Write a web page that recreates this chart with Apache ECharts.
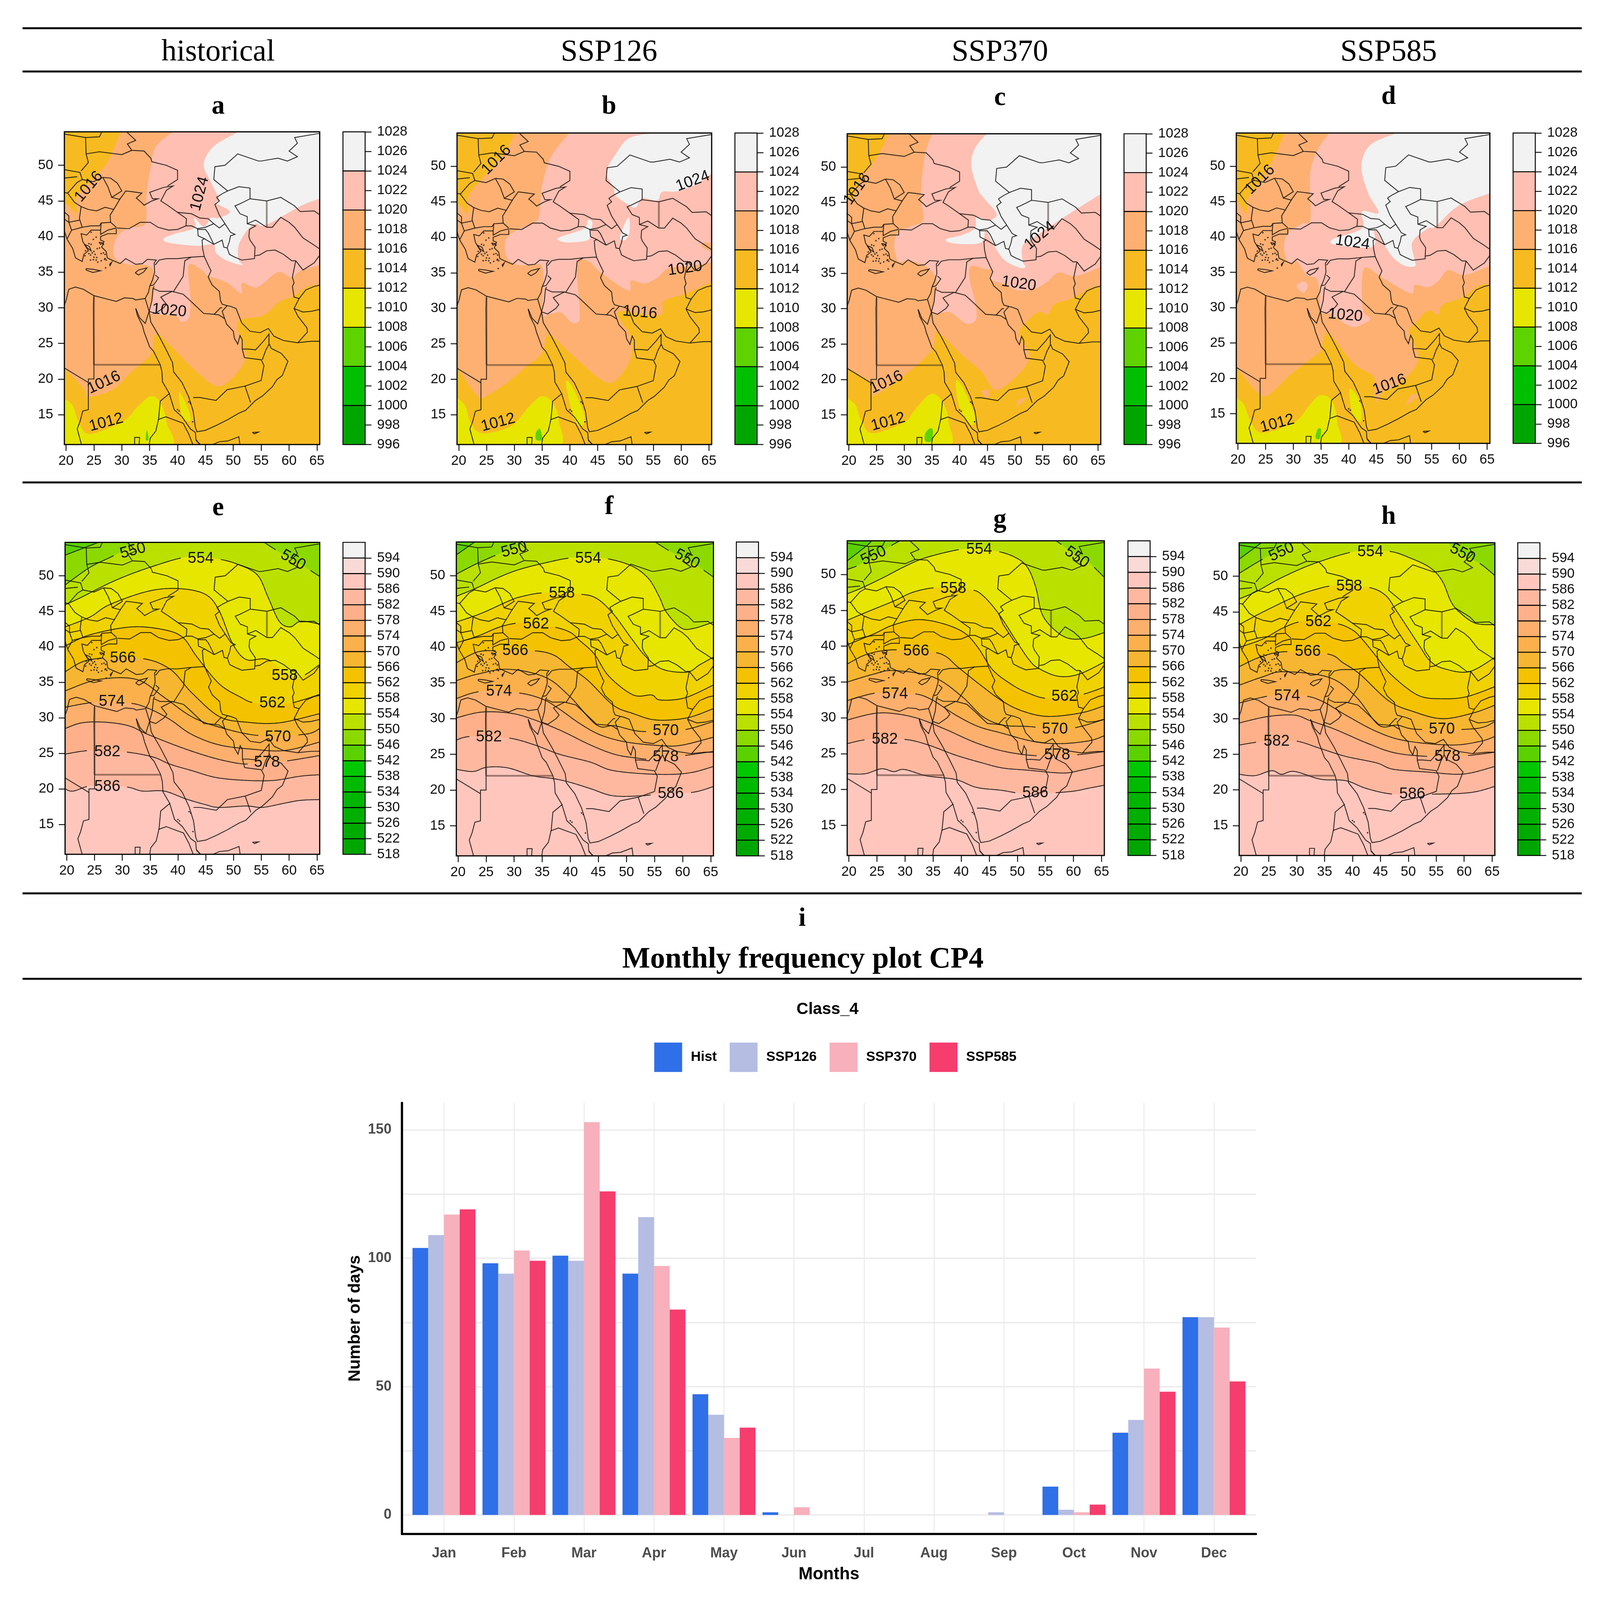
<!DOCTYPE html>
<html><head><meta charset="utf-8">
<style>html,body{margin:0;padding:0;background:#fff;overflow:hidden}</style>
<script src="https://cdn.jsdelivr.net/npm/echarts@6/dist/echarts.min.js"></script>
</head><body><div id="c"></div>
<script>
// ---------- monthly frequency data ----------
const months=['Jan','Feb','Mar','Apr','May','Jun','Jul','Aug','Sep','Oct','Nov','Dec'];
const histDays=[104,98,101,94,47,1,0,0,0,11,32,77];
const ssp126Days=[109,94,99,116,39,0,0,0,1,2,37,77];
const ssp370Days=[117,103,153,97,30,3,0,0,0,1,57,73];
const ssp585Days=[119,99,126,80,34,0,0,0,0,4,48,52];
const lonTicks=[20,25,30,35,40,45,50,55,60,65];
const latTicks=[15,20,25,30,35,40,45,50];
const columnTitles=['historical','SSP126','SSP370','SSP585'];
const slpTicks=[996,998,1000,1002,1004,1006,1008,1010,1012,1014,1016,1018,1020,1022,1024,1026,1028];
const hgtTicks=[518,522,526,530,534,538,542,546,550,554,558,562,566,570,574,578,582,586,590,594];
const slpBands=[[996,'#00A600'],[1000,'#00BF00'],[1004,'#5FD300'],[1008,'#E6E600'],[1012,'#F7BB21'],[1016,'#FDB072'],[1020,'#FFBFB2'],[1024,'#F2F2F2']];
const hgtBands=[[518,'#00A600'],[522,'#00AB00'],[526,'#00B000'],[530,'#00B500'],[534,'#00BA00'],[538,'#00C800'],[542,'#5BD100'],[546,'#8CD900'],[550,'#BAE000'],[554,'#E6E600'],[558,'#EFD200'],[562,'#F4C200'],[566,'#F6B631'],[570,'#FBB04C'],[574,'#FDAF6E'],[578,'#FEB08A'],[582,'#FFB8A0'],[586,'#FFC6BD'],[590,'#F9DAD7'],[594,'#F2F2F2']];

// ---------- geography (lon, lat) ----------
const coastLines=[
[[19.6,30.2],[20,31],[20.5,32.6],[21.7,32.9],[23.1,32.6],[25,31.7],[27,31.3],[29,30.9],[30.5,31.4],[32,31.3],[32.5,31.1],[34.2,31.3],[34.8,32.2],[35,33],[35.5,33.9],[35.9,35],[35.8,36.3],[36.2,36.7],[34.6,36.8],[33.7,36.2],[32.5,36.1],[30.7,36.9],[29.7,36.2],[28.2,36.7],[27.4,37],[27.2,37.9],[26.4,38.5],[26.8,39.3],[26.2,39.5],[26.2,40],[27.5,40.4],[29,40.4],[29,41.1]],
[[29.1,41.2],[31.3,41.1],[33.3,42],[35.1,42],[36.5,41.3],[38.4,40.9],[40,41],[41.5,41.5],[41.6,42.5],[40,43.4],[38.2,44.4],[37,45],[38,46.5],[39.2,47.1],[37.5,46.9],[35,46.2],[35.5,45.3],[36.5,45.3],[35.4,45],[34,44.4],[33.5,44.8],[32.6,45.4],[33.6,46.1],[31.8,46.3],[30.7,46.4],[29.7,45.3],[28.7,44],[27.9,43],[28,42],[29,41.3]],
[[26.2,40.9],[24.5,40.9],[23.7,40.2],[22.7,40.4],[23,39.3],[24,38],[23.2,37.5],[22.9,36.5],[21.7,37],[21.2,38.3],[20.2,39.6],[19.6,41]],
[[26.2,40.9],[26.2,40.3],[27.5,40.9],[29,41.2]],
[[32.5,29.9],[32.8,28.9],[33.7,27.5],[34,26.6],[35,24.5],[35.7,23.9],[36.9,22],[37.2,21],[37.3,19.6],[38.5,18],[39.4,15.7],[40.8,14.7],[42.3,13],[43.2,12.5],[43.3,11.5],[44.3,10.5]],
[[32.5,29.9],[33.2,28.6],[34.2,27.8],[34.9,29.5]],
[[34.9,29.5],[35.2,28],[36.7,26],[37.9,24.2],[39.1,22.3],[39.3,21],[40.8,19.5],[42,17.5],[42.8,15.5],[43.2,13.2],[43.5,12.6],[45,12.8],[47,13.5],[49,14.3],[51,15.2],[52.2,15.6],[54,17],[55.2,17.6],[57,18.9],[57.8,19.9],[58.8,20.5],[59.8,22.5],[58.6,23.6],[56.8,24.3],[56.4,25],[56.4,26.3],[56.1,26],[55.4,25.3],[54,24.1],[52.6,24.2],[51.6,24.2],[51.6,25.5],[51.2,26.1],[50.8,24.9],[50.2,25.7],[50,26.7],[48.8,27.7],[48,29.5],[48.9,30.3],[49.5,30.2],[50.5,29.9],[51.5,27.9],[53,26.7],[54.8,26.5],[56.3,27.1],[57.3,26],[59,25.4],[61.5,25.1],[64,25.3],[65.6,25.3]],
[[47,45.5],[47.5,45],[46.7,44.5],[47.5,43],[48.5,41.8],[49.5,40.6],[50.3,40.3],[49.5,40.1],[49.3,39.3],[48.9,38.4],[49.3,37.5],[50.3,37.1],[51.5,36.7],[53.8,36.9],[53.9,38.5],[53,39.5],[52.8,40],[52.9,41],[54,41.5],[52.5,41.8],[52.5,42.8],[51.2,43.2],[50.3,44.3],[51.2,44.6],[53,45.3],[53,46.8],[51,47],[49,46.4],[48,46],[47,45.5]],
[[43.3,11.4],[44.5,10.5]],[[46,10.7],[47.5,11.2],[49,11.3],[51,11.9],[51.2,10.7]]
];
const landBorders=[
[[25,31.7],[24.9,30],[25,22]],
[[25,22],[25,20],[24,20],[24,15.7],[23,15.5],[22.5,14],[22,13],[22.8,10.7]],
[[24,19.5],[19.6,21.6]],
[[38.6,18],[36.9,16.9],[36.6,14.4],[36.1,12.7],[35.1,11.7],[34.9,10.7]],
[[36.5,14.3],[37.9,14.7],[39.6,14.2],[41,13.8],[42,12.3],[42.8,10.7]],
[[32.3,10.7],[32.3,11.8],[33.2,11.8],[33.1,10.7]],
[[34.9,29.5],[36,29.2],[37.5,30],[38,30.5],[37,31.5],[39,32.3],[41,31.9],[42,31.2],[44.7,29.2],[46.4,29.1],[47.4,29],[48.4,28.5]],
[[39.2,32.2],[41,34.4],[41.3,36.6],[42.4,37.1]],
[[36,36],[36.7,36.7],[38,36.9],[40,36.9],[42.4,37.1]],
[[35.7,32.7],[36.8,32.3],[39,32.3]],
[[34.9,29.5],[35.4,31],[35.6,32.7],[35.8,33]],
[[35.1,33.1],[35.7,33.2],[36.6,34.2],[36,34.6]],
[[34.2,31.3],[34.9,29.5]],
[[42.4,37.1],[44.3,37.2],[44.8,37.2],[44.5,38.3],[44.4,39.5],[44.8,39.7],[43.7,40.1],[43.6,41.1],[42.5,41.5],[41.5,41.5]],
[[44.8,37.2],[45.5,36],[46,35.2],[45.5,34.3],[46.2,33.2],[47.5,32.3],[47.7,31],[48,30.5],[48.9,30.3]],
[[46.6,29.1],[47.7,30],[48,30]],
[[44.8,39.7],[46.5,38.9],[48,39.5],[48.3,38.5],[48.9,38.4]],
[[40,43.4],[42.5,43.2],[44,42.6],[45.5,42.5],[46.5,41.8],[47.5,41.2],[48.5,41.8]],
[[43.5,41.1],[45,41.3],[46.5,41.8]],
[[43.7,41],[45,41],[45.5,40.5],[46.5,38.9]],
[[53.9,37.3],[54.7,37.4],[56,38],[57.5,38.1],[59,37.5],[60.5,36.6],[61.2,36.6]],
[[61.2,36.6],[60.6,34.3],[60.9,33.5],[60.6,33],[60.9,31.5],[61.8,31.3],[60.9,29.9],[61.6,28.8],[63.2,27.2],[63.3,26.6],[61.6,25.1]],
[[60.9,29.9],[62.5,29.4],[64,29.5],[65.6,29.8]],
[[61.8,31.3],[63,32.5],[64.5,33],[65.6,33.2]],
[[49,46.4],[46.5,48],[46.7,49.8],[48.5,50],[50.8,51.6],[54.5,50.6],[55,50.6],[58,51],[59.7,50.6],[61.5,51.2],[60,52],[61.5,53.1],[61,53.9],[65.6,54.5]],
[[38.2,47.1],[40,48],[40,49.3],[38,50],[35.4,50.5],[35.2,51],[34,52],[31.8,52.1],[31,53],[32.5,53.5],[31,54.6],[30.8,55]],
[[23.6,51.6],[26,51.9],[30,51.5],[31.8,52.1]],
[[23.6,51.6],[24,50.4],[22.7,49.2]],
[[26.6,48.3],[28,48.2],[29.2,47.5],[30,46.4],[28.2,45.5],[27.5,47],[26.6,48.3]],
[[28.2,45.5],[29.7,45.2]],
[[22.9,48],[24.9,47.7],[26.6,48.3]],
[[22.7,44.2],[24,43.8],[25.5,43.6],[27,44.1],[28.6,43.8]],
[[20.3,46.1],[21.5,44.8],[22.7,44.2]],
[[20.3,46.1],[22,47.6],[22.9,48]],
[[19.6,49.4],[22.5,49],[22.9,48]],
[[19.6,48.2],[22,48.4]],
[[19.6,46.2],[20.3,46.1]],
[[22.7,44.2],[22.4,42.5],[22.9,41.3],[24.5,41.5],[26,41.5],[26.3,41.9],[28,42]],
[[26.3,41.9],[26.2,40.9]],
[[22.9,41.3],[21,40.9],[20.2,39.7]],
[[19.6,42.5],[20.5,42],[22.4,42.3]],
[[20.5,42],[21,40.9]],
[[19.6,44.9],[19.6,43.5],[20.5,42.9],[20.5,42]],
[[23.6,51.6],[23.5,53.9],[19.6,54.4]],
[[23.5,53.9],[26,54],[26.6,55]],
[[51.6,24.2],[52,23],[55,22.7],[55.5,21.9],[55,19.8],[52.1,19],[53.1,16.7]],
[[42.8,17.4],[44,17.4],[46.9,17],[48.9,18.5],[52.1,19]],
[[55.2,22.7],[55.8,24],[56.4,24.9]],
[[65.6,37.5],[64.5,36.3],[62.5,35.3],[61.2,36.6]],
[[52.5,41.8],[54,42.3],[56,41.3],[57,41.3],[58.5,42.7],[60,42],[61,41.3],[62.5,39.8],[64.3,38.9],[65.6,38.2]],
[[56,45],[58.5,45.5],[61,44.3],[62,43.5],[64.5,43.6],[65.6,43]],
[[53,45.3],[56,45]]
];
const thickBorders=[[[25,22],[36.9,22]],[[56,41.3],[56,45]],[[25,22],[25,31.5]]];
const islandLines=[
[[23.6,35.5],[24.8,35.4],[26.2,35.2],[24.8,34.95],[23.6,35.3],[23.6,35.5]],
[[32.4,34.9],[33,35.3],[34.5,35.6],[33.9,35],[33,34.6],[32.4,34.9]],
[[27.8,36.1],[28.2,36.4],[27.9,35.9],[27.8,36.1]],
[[23.3,38.9],[24.2,38.6],[24.5,38],[23.8,38.4],[23.3,38.9]],
[[25.9,39.2],[26.6,39.1],[26.2,38.9],[25.9,39.2]],
[[53.4,12.5],[54.5,12.55],[53.8,12.3],[53.4,12.5]]
];
const islandDots=[[25.4,39.9],[24.5,40.6],[24.9,39.6],[25.6,38.3],[26,38.4],[26.7,37.7],[27,37.5],[26.3,37.6],[25.2,37.5],[25,37.1],[25.5,37.05],[25.4,36.7],[24.9,36.75],[24.4,37.4],[24.7,37.7],[25,37.9],[26.3,36.6],[26.9,36.8],[27.2,36.7],[27,36.9],[25.7,36.4],[24.4,36.7],[24.1,37.6],[27.1,35.6],[23.4,37.3],[23.5,38],[26.7,38.9],[24.1,39],[24.5,38.9],[40,15.7],[40.3,15.5],[42,16.8],[42.3,16.6],[42.7,14]];

// ---------- sea level pressure regions: [lower bound of band, ring] ----------
const aRegions=[
[1016,[[29.8,54.7],[27.8,51],[26.3,49.3],[21.9,45.5],[21.9,43.3],[19,43],[19,21.4],[19.7,21.4],[23.1,18.7],[23.9,17.5],[28.3,18.5],[31.7,21],[35.2,23.5],[35.7,25.8],[36.6,26.2],[39.1,24.4],[42.5,21.7],[46.9,19],[49.9,20.2],[52.3,22.9],[51.6,24.8],[50.9,28.1],[55.3,28.9],[58.2,30.8],[60.7,31.6],[63.1,32.9],[65.5,33.3]]],
[1020,[[39.1,54.7],[36.1,52.6],[35.2,49.7],[34.4,45.6],[34.2,41.8],[31.2,41.2],[29.3,40.1],[28.5,38.5],[29,36.8],[31.7,36],[33.7,36.1],[35.7,35.2],[35.7,31.6],[34.9,29.3],[39.5,28.9],[40.6,28.1],[42,28.5],[42.3,31.4],[42,36],[44.5,35.2],[45.5,34.5],[48.9,33.5],[51.4,32],[51.6,33.5],[54.3,32.9],[58,35],[60.4,34.3],[62.1,35.2],[65.5,36]]],
[1024,[[50.9,54.7],[46.4,52.6],[44.7,50.1],[46,47.6],[47.4,45.3],[46.9,44.7],[49.4,43.5],[47.4,42.6],[46,42.6],[44.7,41.4],[43,42.6],[43,41.2],[39.6,40.4],[37.5,39.7],[38.6,39.1],[43.5,38.7],[46.4,38.9],[46.9,37.7],[48.9,36.6],[51.6,36],[50.9,36.8],[51,38.9],[52.6,41],[54.1,41.8],[55.8,41.6],[62.1,44.3],[65.5,45.3]]],
[1008,[[19,16.5],[21,16.5],[22.4,13.7],[24.4,12.3],[30.3,14.1],[32.7,16],[35.2,17.6],[36.9,16.7],[38,14],[37.9,10],[19,10]]],
[1008,[[40.3,18.2],[42,15.6],[42.3,14.1],[40.8,14.8]]],
[1008,[[38.2,10.7],[38.7,11.9],[39.2,10.7]]],
[1004,[[34.3,11.5],[34.5,12.8],[34.8,11.5]]]
];
const bRegions=[
[1016,[[30.1,54.7],[29,52.8],[26.9,50.5],[24.5,48.5],[21.8,45.9],[21.6,43.4],[19,43.2],[19,21.6],[19.7,21.6],[23.4,17.6],[24.9,17.6],[28.8,19.6],[32.3,21.9],[34.9,23.6],[35.8,26.1],[36.6,26.2],[41.3,22.8],[46.8,19.5],[49.9,21.4],[51.2,24.1],[50.7,26.4],[48.7,29.5],[56.1,29],[56.9,31],[60.6,32],[65.5,33.7]]],
[1020,[[39.9,54.7],[37.2,52.1],[36,50.2],[34.9,46.9],[34.3,42.6],[31.9,41.6],[28.8,40.1],[28.3,38.3],[28.8,37],[30.6,36.1],[33.1,36.1],[35.1,35.6],[35.1,29.4],[36.4,29.2],[38.4,29.4],[40.3,28],[41.7,28.3],[41.7,30.7],[41.3,36.3],[43.4,36.6],[45.6,35],[50.5,32.5],[51,33.9],[53.4,33.5],[55.7,34.3],[57.7,35.6],[61.8,36],[65.5,36.5]]],
[1016,[[63.7,38.8],[64.3,39.3],[66,38.9],[66,37.9],[64.5,38.3]]],
[1024,[[55.5,54.7],[50.7,54],[48.3,51.8],[46.6,49.2],[47.9,46.9],[48.2,45.9],[50.3,44.7],[51.8,44.2],[53,45.5],[55.7,45.2],[56.6,46.4],[59.4,46.5],[63,47.6],[65.5,49]]],
[1024,[[37.9,39.9],[42.5,41.2],[43.2,42.4],[44,42.2],[43.8,40.9],[43.2,39.6],[39.3,39.3]]],
[1024,[[50.3,42.6],[50.7,42.6],[50.7,40.6],[49.9,39.6],[49,39.8],[49.5,41.2]]],
[1008,[[19,16.7],[21,16.5],[22.2,13.8],[24.3,12.4],[29.4,13.4],[32.7,16.2],[34.9,17.6],[36.8,16.8],[38,14.2],[37.1,10],[19,10]]],
[1008,[[39.3,19.3],[40.3,19.1],[42.5,15.2],[42.3,13.5],[40.9,14.2]]],
[1004,[[33.9,12.5],[34.6,13],[35,11.5],[33.9,11.5]]]
];
const cRegions=[
[1016,[[27.1,54.7],[26,52.7],[24.1,50.2],[22.3,48.6],[20.6,45.5],[19,44],[19,21.6],[19.7,21.6],[23.9,19.6],[24.3,17.7],[29.7,20.4],[34.9,24.1],[35.6,26.5],[36.7,26.3],[40.4,23.5],[44.1,21],[46.9,18.5],[52.5,22.7],[50.8,26.3],[51.8,27.9],[54.2,29.5],[56,29.2],[57.1,30.6],[60.5,31.5],[63.4,32.9],[65.5,33.1]]],
[1016,[[44,18.3],[45.4,18.5],[44.9,17.2]]],
[1016,[[50.5,16.3],[52.1,17.4],[50.6,17.1]]],
[1020,[[35.1,54.7],[33.8,52],[33,46.4],[33.4,42.6],[31.5,41.7],[28.9,40.8],[28.2,38.9],[28.9,36.7],[30.8,36.8],[33.8,36],[35.8,34.2],[35.4,31.3],[35.2,29.3],[38.2,29.5],[41.2,27.9],[43,28.5],[42.8,31],[41.8,34.2],[42.1,36],[44.5,35.6],[46,35.4],[45.4,34.2],[47.9,33.5],[50.5,32.6],[53.8,32.9],[56,33.9],[57.9,35.1],[61,34.6],[65.5,35.9]]],
[1024,[[44.9,54.7],[42.8,52.7],[42.1,50.2],[43.4,46.7],[44.5,45.5],[46.7,43.4],[45.6,42.5],[44.7,42.5],[43,42.9],[42.8,41.4],[40.5,40.4],[37.5,39.8],[39,39.2],[43.8,39.3],[44.7,41.2],[45.6,39.8],[47.9,37],[50.8,35.8],[51.9,35.9],[51.4,36.7],[51.4,38.9],[53.8,40.3],[56,41.4],[58.6,42.8],[65.5,46.2]]],
[1008,[[19,16.6],[21,16.6],[22.3,14.1],[24.3,12.4],[29.9,13.9],[31.9,15.7],[34.7,17.9],[36.7,17.1],[38,14.1],[37.1,10],[19,10]]],
[1008,[[39.3,19.6],[40.4,19.1],[42.7,15],[42.1,13.5],[40.1,15.7]]],
[1004,[[33.8,12.4],[34.7,13.1],[35.2,12.7],[34.9,11.3],[33.8,11.3]]]
];
const dRegions=[
[1016,[[28.4,54.7],[26.9,51.9],[25.7,50],[23.9,47.6],[21.7,45.3],[21.5,43.4],[19,43.4],[19,21.5],[19.7,21.5],[24.1,17.6],[26.5,18.3],[29.4,20.5],[33.9,23.2],[35,24],[35.6,26],[36.7,26.2],[40.9,22.1],[44.6,20.2],[44.6,17.9],[45.2,16.6],[46.1,18],[49.4,19.4],[52.6,22.7],[50.9,26.5],[51.9,27.7],[54.3,29.6],[56.1,29],[57,30.4],[60.6,31.5],[63.5,33.1],[65.5,33.3]]],
[1016,[[50.4,16.3],[51.3,17.6],[52.6,17.6],[51.5,16.8]]],
[1020,[[36.5,54.7],[34.3,52.2],[33,48.7],[33.1,42.5],[31.7,41.9],[29.1,40.6],[28.3,38.6],[29.1,36.4],[30.7,36.5],[32.4,34.6],[34.3,34],[34.8,31.2],[35,29.3],[36.7,29.2],[39.4,27.7],[41.3,27.3],[43.9,28.4],[42.6,29.6],[42.4,34],[43.1,35.7],[45.4,34.6],[47.2,33.7],[51.3,32],[51.9,33.2],[54.3,32.9],[56.1,33.7],[58,35.3],[60.9,34.6],[65.5,35.9]]],
[1020,[[30.6,33],[31.7,33.7],[32.6,33.2],[31.9,32.1]]],
[1024,[[48.7,54.7],[43.9,53],[42.3,50],[43.5,46.2],[45.4,43.4],[42.4,43.6],[42.4,41.2],[37.2,39.7],[37.6,38.9],[44.3,38.6],[44.6,41.1],[46.1,39.3],[48,37.1],[50.2,35.9],[52,35.9],[51.9,36.8],[51.5,39.3],[54.3,41.2],[55.7,41.5],[59.8,44.4],[65.5,46.2]]],
[1008,[[19,16.6],[20.9,16.5],[22.2,14.1],[24.3,12.3],[30.2,13.8],[32.8,16.1],[34.8,17.6],[36.9,16.9],[37.9,13.9],[37.1,10],[19,10]]],
[1008,[[40.2,18.5],[42,16.8],[42.2,13.9],[40.6,15.2]]],
[1004,[[34,11.6],[34.4,12.8],[35,12.8],[34.8,11.5]]]
];
const aLabels=[[24.1,47,1016],[44,46,1024],[38.5,29.6,1020],[26.8,19.5,1016],[27.2,13.9,1012]];
const bLabels=[[26.8,50.9,1016],[62.1,47.9,1024],[60.7,35.6,1020],[52.6,29.4,1016],[27.1,13.9,1012]];
const cLabels=[[21.5,46.9,1016],[54.5,40.3,1024],[50.7,33.5,1020],[26.8,19.6,1016],[27.1,14,1012]];
const dLabels=[[24,48.1,1016],[40.7,39.2,1024],[39.4,28.9,1020],[47.4,19.1,1016],[27.1,13.6,1012]];
const aAngles=[50,75,-5,25,15], bAngles=[45,20,8,-5,15], cAngles=[55,40,-8,25,15], dAngles=[45,-8,-5,20,15];

// ---------- 500 hPa height contours: [level, line] ----------
const eContours=[
[586,[[19.7,20],[21.2,19.7],[24.7,20.5],[30.6,20.3],[33.6,19.7],[37.5,19.7],[41.4,18.6],[44.9,17.8],[47.4,17.4],[52.3,17.6],[55.2,17.4],[59.2,18],[62.1,18.4],[65.5,18.5]]],
[582,[[19.7,24.9],[22.7,25.3],[24.9,25.4],[30.6,25.2],[35.5,24.5],[38.5,23.5],[42.4,22.6],[46.9,21.6],[52.3,21.2],[57.2,21.2],[62.1,21.8],[65.5,22]]],
[578,[[19.7,28.5],[22.7,29.3],[26.7,29.4],[31.1,28.9],[34.5,27.7],[40,26],[44.9,24.7],[48.8,23.9],[52.3,23.5],[56,23.8],[59.2,23.9],[65.5,24.7]]],
[574,[[19.7,31.5],[25.2,32.2],[31.1,32.1],[34.5,31.4],[38.5,29.8],[42.4,27.7],[47.4,26.2],[53.3,25.6],[59.2,25.4],[65.5,26.6]]],
[570,[[19.7,33.8],[25.7,35.4],[32.6,35.4],[37.5,32.9],[42.4,30.2],[47.4,28.7],[54.7,27.5],[62.9,27.7],[65.5,28.5]]],
[566,[[19.7,36.5],[24.2,38.2],[33.1,38.4],[38.5,36.9],[42.4,33.6],[47.4,30.2],[52.3,29.4],[58.2,29.3],[65.5,30.6]]],
[562,[[19.7,40.1],[24.2,41.7],[31.6,42.8],[37.5,42.4],[40.9,41.3],[43.4,38.6],[47.4,34.8],[51.3,32.9],[53.8,32.1],[59.2,31.9],[65.5,33.3]]],
[558,[[19.7,42.8],[24.2,44.2],[27.6,45.9],[34.5,47.8],[40,48.2],[44.9,47.4],[47.4,45.1],[49.8,40.5],[52.3,38.2],[56.2,38.2],[61.2,35.7],[65.5,37.5]]],
[554,[[19.7,45.9],[22.7,47],[28.6,49.3],[35,51.2],[41.9,52.7],[46.9,52.4],[50.8,51.6],[54.3,50.1],[56.2,47],[58.2,43.6],[60.2,42.8],[62.1,43.6],[65.5,43.2]]],
[550,[[19.7,48.7],[24.2,51.2],[28.6,52.9],[32.6,54.7]]],
[550,[[55.5,54.7],[58.7,53.1],[62.1,51.6],[65.5,49.9]]],
[546,[[19.7,52.9],[25.7,54.7]]]
];
const fContours=[
[586,[[19.7,22.9],[22.7,22.6],[25.2,23.2],[28.9,23.1],[33.3,22],[37,21.6],[39.9,21.1],[43.6,20.2],[47.6,19.2],[52.7,19.2],[56.4,19.5],[61.9,19.7],[65.5,20.5]]],
[582,[[19.7,27],[22.3,27.5],[28.9,27.3],[33.7,26.3],[38.1,25],[43.6,23.9],[47.2,22.8],[52.7,22.3],[58.2,22.2],[61.9,22.5],[65.5,23.3]]],
[578,[[19.7,30.1],[24.1,30.9],[28.9,30.8],[32.6,30.1],[38.1,28.4],[43.6,26.3],[47.9,25],[51.6,24.5],[54.9,24.3],[60,24.8],[65.5,25.4]]],
[574,[[19.7,32.8],[24.1,33.8],[30.7,33.6],[35.1,32.7],[38.1,31.3],[41.7,29.3],[45.4,27.7],[50.1,26.7],[56.4,26.2],[60,26.3],[65.5,27.4]]],
[570,[[19.7,35.3],[23.4,36.2],[28.9,36.9],[35.5,35.8],[39.9,33.1],[44.7,29.1],[47.9,29],[52.7,28.2],[60,28.4],[65.5,29.6]]],
[566,[[19.7,37.8],[23.4,39.3],[27.1,39.5],[33.3,39.5],[37,38.9],[39.9,37.2],[43.2,35.3],[47.6,31.9],[51.2,30.7],[55.3,29.8],[60.8,30.1],[65.5,31.4]]],
[562,[[19.7,40.6],[23.4,41.5],[27.8,42.9],[31.8,43.4],[36.6,42.9],[39.9,42.1],[41.7,40.9],[44.3,39],[46.9,35.9],[51.2,33.3],[54.5,33.3],[56,32.6],[60.4,32.9],[65.5,34.7]]],
[558,[[19.7,43.5],[24.1,44.7],[28.9,46.4],[31.5,47.1],[35.5,47.6],[41.7,47.4],[44.7,46.8],[47.6,44.7],[50.9,41.2],[53.4,38.7],[56.4,36.9],[60.8,36.5],[63,37.5],[65.5,38.6]]],
[554,[[19.7,47.1],[23.4,48.3],[27.1,49.7],[30.7,50.8],[35.1,51.7],[40.3,52.5],[45.4,52.5],[50.5,51.5],[53.8,49.7],[55.8,47.1],[57.1,44.9],[59.7,42.7],[61.9,42.6],[65.5,43.5]]],
[550,[[19.7,50.2],[23.4,51.7],[27.8,53.2],[32.6,54.7]]],
[550,[[55.1,54.7],[58.2,53.2],[61.9,51.7],[65.5,49.8]]],
[546,[[19.7,52.9],[23,54.7]]]
];
const gContours=[
[586,[[19.7,22.2],[22.9,22.2],[25.8,22.9],[28,22.5],[29.9,22.8],[33.9,21.9],[39,21.4],[42.7,20.3],[47.1,19.9],[51.8,19.4],[59.2,19.7],[62.8,20.2],[65.5,20.6]]],
[582,[[19.7,26.4],[23.6,27],[29.9,27],[34.2,26.2],[39,24.8],[43.8,23.7],[47.4,23],[51.8,22.7],[58.1,22.3],[61.4,22.7],[65.5,23.4]]],
[578,[[19.7,29.7],[24.4,30.6],[28,30.6],[32.4,29.9],[37.2,28.4],[42.7,26.5],[47.8,25.3],[53.7,24.7],[59.9,24.8],[65.5,25.3]]],
[574,[[19.7,32.4],[25.1,33.5],[31.3,33.4],[34.6,32.6],[39,30.4],[43,28.8],[47.1,27.9],[52.9,26.7],[57.7,26.4],[62.8,26.8],[65.5,27.5]]],
[570,[[19.7,35],[24.4,36.1],[28,36.6],[35,35.7],[40.1,33],[43.8,30.2],[47.4,29],[51.8,28.8],[59.2,28.5],[65.5,29.8]]],
[566,[[19.7,37.5],[23.3,38.9],[28,39.5],[34.6,39.2],[37.2,38.6],[39.4,37.1],[43.4,34.6],[47.4,32.3],[51.1,30.9],[55.5,30.2],[61.4,30.7],[65.5,31.7]]],
[562,[[19.7,40.2],[24.4,41.7],[27.7,42.9],[32.1,43.7],[36.5,43.2],[40.5,41.9],[43,39.8],[45.6,36.7],[48.9,34.7],[51.8,33.5],[55.5,32.7],[61.2,33.2],[65.5,34.3]]],
[558,[[19.7,43.6],[23.3,44.8],[28,46.3],[31.7,47.6],[36.1,48.2],[41.6,47.9],[43.8,47.1],[46.7,44.5],[50,40.5],[52.2,38],[53.8,36.9],[57.3,35.8],[61,36.1],[65.5,37.8]]],
[554,[[19.7,47.3],[22.5,48.2],[26.2,49.6],[29.9,51.1],[33.9,52.4],[40.8,53.6],[46,53.3],[49.6,52.4],[51.8,51],[53.3,48.2],[54.4,44.5],[56.6,42.3],[59.1,41.1],[62.1,41.1],[65.5,41.9]]],
[550,[[19.7,50.7],[22.5,51.6],[27.7,54.1],[29.1,54.7]]],
[550,[[56.9,54.7],[59.5,53.3],[62.4,51.9],[65.5,49.6]]],
[546,[[19.7,51.9],[23.3,54.1],[24,54.7]]]
];
const hContours=[
[586,[[19.7,22.2],[22.5,22],[25.5,22.7],[27.3,22.2],[29.6,22.6],[34.3,21.5],[38.8,21.3],[42.5,20.2],[47.3,19.4],[53.5,19.4],[59.1,19.5],[62.4,19.8],[65.5,20.5]]],
[582,[[19.7,26.3],[24,26.8],[29.6,26.9],[34.3,25.8],[38.8,24.7],[44.3,23.8],[47.3,22.9],[53.5,22.5],[58.3,22.2],[61.3,22.4],[65.5,23.3]]],
[578,[[19.7,29.4],[24.8,30.3],[29.6,30.5],[32.5,29.7],[36.9,28.5],[42.5,26.6],[47.6,25.2],[53.9,24.7],[60.2,24.8],[65.5,25.3]]],
[574,[[19.7,32.2],[25.9,33.3],[31.4,33.2],[34.7,32.4],[38.8,30.5],[44.3,28.2],[49.5,26.9],[57.6,26.3],[62.8,26.8],[65.5,27.5]]],
[570,[[19.7,34.7],[24,35.9],[27.7,36.6],[35.8,35.8],[40.6,33.1],[44.7,29.1],[48,29.1],[51.7,28.5],[62,28.6],[65.5,29.6]]],
[566,[[19.7,37.3],[23.3,38.6],[27.7,39.4],[35.5,39.1],[38.4,37.8],[41.4,36.2],[46.5,32.5],[50.9,31],[56.1,30],[61.6,30.8],[65.5,31.9]]],
[562,[[19.7,40],[24,41.2],[27.7,42.8],[31.4,43.7],[36.9,43.4],[39.9,42.5],[41.7,41.2],[44.3,38.7],[46.9,36.2],[51.7,33.3],[56.1,32.8],[60.5,33.1],[65.5,34.5]]],
[558,[[19.7,43.2],[24,45],[29.6,47.1],[33.2,48.1],[36.9,48.7],[42.5,48.5],[45.8,47.4],[48,45],[51.7,40.6],[53.9,38.1],[56.5,37],[60.9,36.6],[65.5,38.6]]],
[554,[[19.7,46.8],[22.9,47.9],[27.3,49.8],[33.2,51.8],[40.6,53.5],[46.5,53.5],[50.2,52.6],[53.9,51.2],[56.1,49.3],[57.6,46.5],[59.1,45],[62,43.4],[65.5,43.2]]],
[550,[[19.7,50.4],[23.7,52.3],[28.8,54.4],[30.3,54.7]]],
[550,[[57,54.7],[59.8,53],[62.8,51.8],[65.5,50.1]]],
[546,[[19.7,52.4],[23.7,54.7]]]
];
const eLabels=[[31.9,53.5,550],[60.7,52.2,550],[44.1,52.4,554],[59.2,35.9,558],[57,32.1,562],[30.1,38.4,566],[58,27.3,570],[28.1,32.3,574],[56,23.7,578],[27.3,25.2,582],[27.3,20.3,586]];
const fLabels=[[30,53.6,550],[60.8,52.3,550],[43.2,52.4,554],[38.5,47.5,558],[33.9,43.2,562],[30.2,39.5,566],[57,28.3,570],[27.3,33.8,574],[57,24.6,578],[25.5,27.4,582],[57.9,19.5,586]];
const gLabels=[[24.4,52.6,550],[60.6,52.4,550],[43.2,53.5,554],[38.6,48,558],[58.4,33,562],[32,39.3,566],[56.7,28.4,570],[28.2,33.3,574],[57.1,24.8,578],[26.4,27,582],[53.2,19.5,586]];
const hLabels=[[27.3,53.4,550],[59.7,53.2,550],[43.2,53.4,554],[39.4,48.6,558],[33.9,43.6,562],[32,39.4,566],[56,28.5,570],[28.3,33.2,574],[57,24.7,578],[26.4,26.8,582],[50.7,19.4,586]];
const eAngles=[15,-30,0,0,0,0,0,0,0,0,0], fAngles=[15,-28,0,0,0,0,0,0,0,0,0], gAngles=[25,-35,0,0,0,0,0,0,0,0,0], hAngles=[25,-28,0,0,0,0,0,0,0,0,0];

// ---------- layout (design size 4474 x 4139, fitted to the window) ----------
const panelBoxes=[ // left, right, top, bottom, colourbar left
 [180,894,341,1150,959],[1278,1990,344,1150,2055],[2369,3078,346,1150,3143],[3457,4166,344,1147,4231],
 [182,894,1403,2210,959],[1276,1995,1402,2214,2059],[2369,3088,1399,2213,3154],[3465,4180,1404,2213,4244]];
const panelSets=[
 {regions:aRegions,labels:aLabels,angles:aAngles},{regions:bRegions,labels:bLabels,angles:bAngles},
 {regions:cRegions,labels:cLabels,angles:cAngles},{regions:dRegions,labels:dLabels,angles:dAngles},
 {contours:eContours,labels:eLabels,angles:eAngles},{contours:fContours,labels:fLabels,angles:fAngles},
 {contours:gContours,labels:gLabels,angles:gAngles},{contours:hContours,labels:hLabels,angles:hAngles}];
const W=Math.min(window.innerWidth,4474),H=Math.min(window.innerHeight,4139);
const sx=W/4474,sy=H/4139,fs=(sx+sy)/2;
const X=v=>v*sx,Y=v=>v*sy,S=v=>v*fs;
const LON0=19.7,LON1=65.5,LAT0=10.8,LAT1=54.7,ink='#111',mapFont='"Liberation Sans"';
const bandColor=(bands,v)=>{const b=bands.find(x=>x[0]===v);return b?b[1]:'#000'};
function closure(line){
  const r=[],f=line[0],l=line[line.length-1];
  if(l[1]>=54)r.push([l[0],56]);else r.push([66,l[1]],[66,56]);
  if(f[1]>=54)r.push([f[0],56]);else r.push([19,56],[19,f[1]]);
  return r;
}
// curve through contour vertices in screen space, so contours read as curves
function curve(pts,closed){
  const n=pts.length,out=[],end=closed?n:n-1;
  if(n<3&&!closed)return pts;
  for(let i=0;i<end;i++){
    const a=pts[closed?(i-1+n)%n:Math.max(i-1,0)],b=pts[i],c=pts[(i+1)%n],d=pts[closed?(i+2)%n:Math.min(i+2,n-1)];
    for(let k=0;k<8;k++){
      const t=k/8,t2=t*t,t3=t2*t;
      out.push([0,1].map(j=>0.5*(2*b[j]+(c[j]-a[j])*t+(2*a[j]-5*b[j]+4*c[j]-d[j])*t2+(3*b[j]-a[j]-3*c[j]+d[j])*t3)));
    }
  }
  if(!closed)out.push(pts[n-1]);
  return out;
}
const plainNumber=v=>String(v);
const grids=[],xAxes=[],yAxes=[],series=[];
function customSeries(i,items,z,clip,render){
  series.push({type:'custom',coordinateSystem:'cartesian2d',xAxisIndex:i,yAxisIndex:i,silent:true,clip:clip,z:z,animation:false,
    data:items.map((_,k)=>[k]),renderItem:(p,api)=>render(items[p.dataIndex],api)});
}
function lineChildren(pts,style){return {type:'polyline',shape:{points:pts},style:style}}
function gappedLine(line,gaps,api,style){
  const px=curve(line.map(q=>api.coord(q)),false),centres=gaps.map(q=>api.coord(q));
  const out=[];let cur=[];const R=S(52);
  for(let s=0;s<px.length-1;s++){
    const a=px[s],b=px[s+1],n=Math.max(1,Math.ceil(Math.hypot(b[0]-a[0],b[1]-a[1])/4));
    for(let t=0;t<=n;t++){
      const p=[a[0]+(b[0]-a[0])*t/n,a[1]+(b[1]-a[1])*t/n];
      if(centres.some(c=>Math.hypot(c[0]-p[0],c[1]-p[1])<R)){if(cur.length>1)out.push(cur);cur=[];}
      else cur.push(p);
    }
  }
  if(cur.length>1)out.push(cur);
  return {type:'group',children:out.map(o=>lineChildren(o,style))};
}
const tickFont=Math.round(S(37));
panelBoxes.forEach((b,n)=>{
  const m=grids.length,set=panelSets[n],isHgt=!!set.contours;
  const baseColor=isHgt?bandColor(hgtBands,586):bandColor(slpBands,1012);
  grids.push({left:X(b[0]),width:X(b[1])-X(b[0]),top:Y(b[2]),height:Y(b[3])-Y(b[2]),show:true,backgroundColor:baseColor,borderWidth:0});
  xAxes.push({gridIndex:m,type:'value',min:LON0,max:LON1,position:'bottom',splitLine:{show:false},axisLine:{show:false,onZero:false},
    axisTick:{length:S(17),customValues:lonTicks,lineStyle:{color:ink,width:2.4}},
    axisLabel:{customValues:lonTicks,margin:S(26),fontFamily:mapFont,fontSize:tickFont,color:ink}});
  yAxes.push({gridIndex:m,type:'value',min:LAT0,max:LAT1,position:'left',splitLine:{show:false},axisLine:{show:false,onZero:false},
    axisTick:{length:S(17),customValues:latTicks,lineStyle:{color:ink,width:2.4}},
    axisLabel:{customValues:latTicks,margin:S(30),fontFamily:mapFont,fontSize:tickFont,color:ink}});
  const rings=isHgt?set.contours.map(c=>({fill:bandColor(hgtBands,c[0]-4),line:c[1],top:true}))
    :set.regions.map(r=>({fill:bandColor(slpBands,r[0]),line:r[1],top:r[1][0][1]>=54}));
  customSeries(m,rings,2,true,(r,api)=>{
    const px=curve(r.line.map(q=>api.coord(q)),!r.top);
    const pts=r.top?px.concat(closure(r.line).map(q=>api.coord(q))):px;
    return {type:'polygon',shape:{points:pts},style:{fill:r.fill}};
  });
  const thin={stroke:'rgba(10,10,10,.85)',lineWidth:2.2,fill:null};
  if(isHgt){
    customSeries(m,set.contours,3,true,(c,api)=>gappedLine(c[1],set.labels.filter(l=>l[2]===c[0]),api,thin));
  }
  customSeries(m,coastLines.concat(landBorders,islandLines),4,true,(l,api)=>lineChildren(l.map(q=>api.coord(q)),thin));
  customSeries(m,thickBorders,4,true,(l,api)=>lineChildren(l.map(q=>api.coord(q)),{stroke:'rgba(60,40,30,.5)',lineWidth:4.5,fill:null}));
  series.push({type:'scatter',xAxisIndex:m,yAxisIndex:m,data:islandDots,symbolSize:4,itemStyle:{color:ink},silent:true,z:4,animation:false});
  customSeries(m,set.labels.map((l,k)=>[l,set.angles[k]]),6,false,(l,api)=>{
    const c=api.coord(l[0]);
    return {type:'text',x:c[0],y:c[1],rotation:l[1]*Math.PI/180,style:{text:String(l[0][2]),font:Math.round(S(42))+'px '+mapFont,fill:ink,align:'center',verticalAlign:'middle'}};
  });
  customSeries(m,[0],7,false,(_,api)=>{
    const p=api.coord([LON0,LAT1]),q=api.coord([LON1,LAT0]);
    return {type:'rect',shape:{x:p[0],y:p[1],width:q[0]-p[0],height:q[1]-p[1]},style:{fill:null,stroke:'#000',lineWidth:3}};
  });
  const k=grids.length,bands=isHgt?hgtBands:slpBands,ticks=isHgt?hgtTicks:slpTicks,vmin=bands[0][0],step=bands[1][0]-bands[0][0],vmax=vmin+step*bands.length;
  grids.push({left:X(b[4]),width:X(62),top:Y(b[2]),height:Y(b[3])-Y(b[2]),show:false});
  xAxes.push({gridIndex:k,type:'value',min:0,max:1,show:false});
  yAxes.push({gridIndex:k,type:'value',min:vmin,max:vmax,position:'right',splitLine:{show:false},axisLine:{show:false,onZero:false},
    axisTick:{length:S(17),customValues:ticks,lineStyle:{color:ink,width:2.4}},
    axisLabel:{customValues:ticks,margin:S(32),fontFamily:mapFont,fontSize:tickFont,color:ink,formatter:plainNumber}});
  customSeries(k,bands,2,false,(s,api)=>{
    const p=api.coord([0,s[0]+step]),q=api.coord([1,s[0]]);
    return {type:'rect',shape:{x:p[0],y:p[1],width:q[0]-p[0],height:q[1]-p[1]},style:{fill:s[1],stroke:'#000',lineWidth:2.4}};
  });
});
// monthly bars
const bi=grids.length,mInd=months.map((_,i)=>i+1);
grids.push({left:X(1124),width:X(2388),top:Y(2853),height:Y(1115),show:false});
xAxes.push({gridIndex:bi,type:'value',min:0.4,max:12.6,name:'Months',nameLocation:'middle',nameGap:S(86),
  nameTextStyle:{fontFamily:mapFont,fontWeight:'bold',fontSize:S(46),color:'#000'},
  axisLine:{show:true,onZero:false,lineStyle:{color:'#000',width:S(6)}},axisTick:{show:false,customValues:mInd},
  splitLine:{show:true,lineStyle:{color:'#EDEDED',width:S(3)}},
  axisLabel:{customValues:mInd,margin:S(34),fontFamily:mapFont,fontWeight:'bold',fontSize:S(38),color:'#4d4d4d',formatter:v=>months[v-1]}});
const yGrid=[0,25,50,75,100,125,150];
yAxes.push({gridIndex:bi,type:'value',min:-7.4,max:160.5,name:'Number of days',nameLocation:'middle',nameRotate:90,nameGap:X(100),
  nameTextStyle:{fontFamily:mapFont,fontWeight:'bold',fontSize:S(45),color:'#000'},
  axisLine:{show:true,onZero:false,lineStyle:{color:'#000',width:S(6)}},axisTick:{show:false,customValues:yGrid},
  splitLine:{show:true,lineStyle:{color:'#EDEDED',width:S(4)}},
  axisLabel:{customValues:[0,50,100,150],margin:S(28),fontFamily:mapFont,fontWeight:'bold',fontSize:S(38),color:'#4d4d4d'}});
[['Hist',histDays,'#2F6FE8'],['SSP126',ssp126Days,'#B5BDE3'],['SSP370',ssp370Days,'#F7B0BC'],['SSP585',ssp585Days,'#F53D6E']].forEach(s=>{
  series.push({type:'bar',name:s[0],xAxisIndex:bi,yAxisIndex:bi,data:s[1].map((v,i)=>[i+1,v]),barWidth:X(44),barGap:'0%',itemStyle:{color:s[2]},z:3,animation:false,silent:true});
});
// page text and rules
const rules=[73,185,1248,2311,2532];
const text=(x,y,t,font)=>({type:'text',x:X(x),y:Y(y),style:{text:t,font:font,fill:'#000',align:'center',verticalAlign:'middle'}});
const colX=[610,1703,2796,3883];
const headFont=Math.round(S(82))+'px "Liberation Serif"',letterFont='bold '+Math.round(S(70))+'px "Liberation Serif"';
const panelLetters=[['a',610,277],['b',1703,277],['c',2796,254],['d',3883,251],['e',610,1315],['f',1703,1312],['g',2796,1347],['h',3883,1338],['i',2243,2377]];
const graphics=[
  ...rules.map(y=>({type:'rect',shape:{x:X(63),y:Y(y)-2.5,width:X(4360),height:5},style:{fill:'#000'}})),
  ...columnTitles.map((t,i)=>text(colX[i],136,t,headFont)),
  ...panelLetters.map(l=>text(l[1],l[2],l[0],letterFont)),
  text(2245,2483,'Monthly frequency plot CP4','bold '+Math.round(S(80))+'px "Liberation Serif"'),
  text(2314,2612,'Class_4','bold '+Math.round(S(44))+'px "Liberation Sans"')
];
const host=document.getElementById('c');
host.style.width=W+'px';host.style.height=H+'px';
const chart=echarts.init(host,null,{width:W,height:H});
chart.setOption({animation:false,backgroundColor:'#fff',grid:grids,xAxis:xAxes,yAxis:yAxes,series:series,
  legend:{data:['Hist','SSP126','SSP370','SSP585'],left:X(1824),top:Y(2692),itemWidth:X(78),itemHeight:Y(76),itemGap:X(36),icon:'rect',selectedMode:false,
    textStyle:{fontFamily:mapFont,fontWeight:'bold',fontSize:S(37),color:'#000',padding:[S(8),0,0,S(18)]}},
  graphic:{elements:graphics}});
</script></body></html>
